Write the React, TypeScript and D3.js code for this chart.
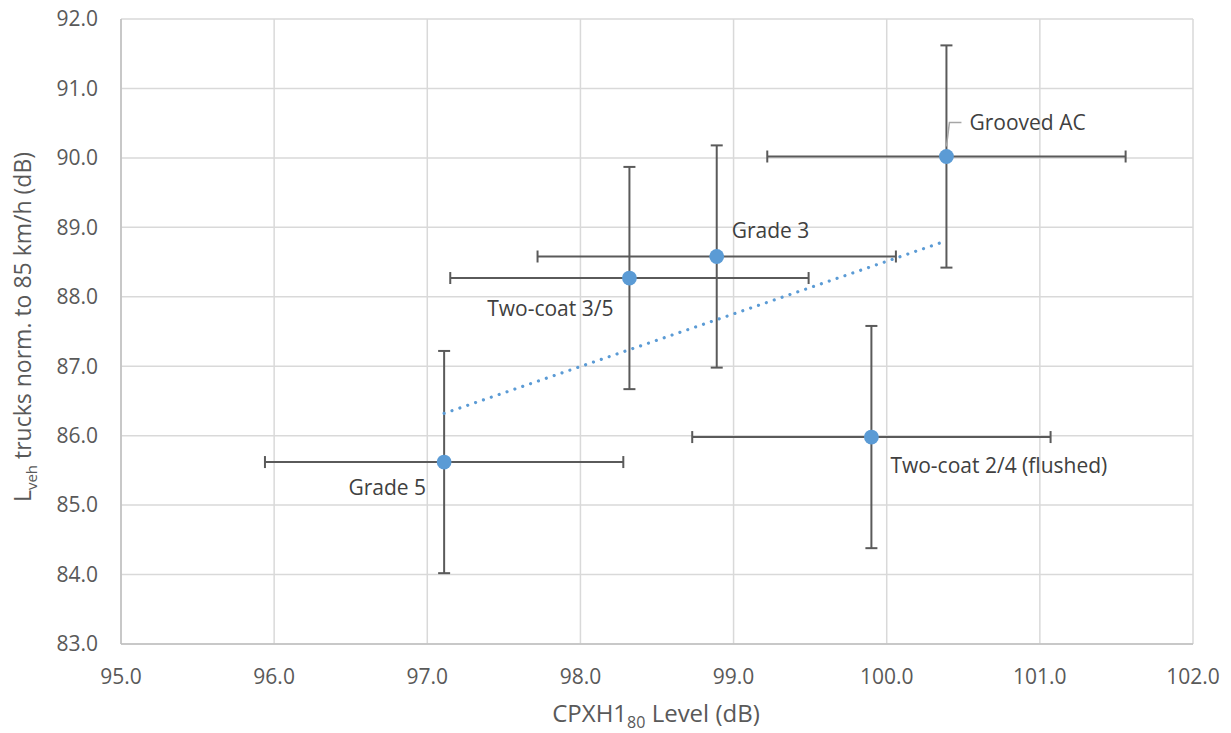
import React, { useEffect } from "react";
import * as d3 from "d3";

// ---- data ----
const labels = ["Grade 5", "Two-coat 3/5", "Grade 3", "Grooved AC", "Two-coat 2/4 (flushed)"];
const xValues = [97.11, 98.32, 98.89, 100.39, 99.9];
const yValues = [85.62, 88.27, 88.58, 90.02, 85.98];
const xErrors = [1.17, 1.17, 1.17, 1.17, 1.17];
const yErrors = [1.6, 1.6, 1.6, 1.6, 1.6];
const xTicks = [95, 96, 97, 98, 99, 100, 101, 102];
const yTicks = [83, 84, 85, 86, 87, 88, 89, 90, 91, 92];

// ---- layout ----
const W = 1231;
const H = 733;
const plot = { left: 121, right: 1193, top: 19, bottom: 644 };
const labelLayout = [
  { dx: -18, dy: 26, anchor: "end" },
  { dx: -16, dy: 31, anchor: "end" },
  { dx: 15, dy: -26, anchor: "start" },
  { dx: 23, dy: -34, anchor: "start" },
  { dx: 19, dy: 29, anchor: "start" },
];
const FONT = "'Open Sans', 'Noto Sans', sans-serif";
const TICK_SIZE = 21;
const LABEL_SIZE = 21;
const TEXT = "#595959";
const BLUE = "#5B9BD5";
const BAR = "#5a5a5a";

export default function App() {
  useEffect(() => {
    document.body.style.margin = "0";
  }, []);

  const x = d3.scaleLinear().domain([95, 102]).range([plot.left, plot.right]);
  const y = d3.scaleLinear().domain([83, 92]).range([plot.bottom, plot.top]);

  // linear regression trendline
  const mx = d3.mean(xValues) as number;
  const my = d3.mean(yValues) as number;
  let sxy = 0, sxx = 0;
  xValues.forEach((v, i) => {
    sxy += (v - mx) * (yValues[i] - my);
    sxx += (v - mx) * (v - mx);
  });
  const slope = sxy / sxx;
  const icpt = my - slope * mx;
  const x0 = d3.min(xValues) as number;
  const x1 = d3.max(xValues) as number;
  const trend = d3.line<number>().x((v) => x(v)).y((v) => y(icpt + slope * v))([x0, x1]) as string;

  const cap = 6;

  return (
    <svg width={W} height={H} style={{ display: "block", background: "#fff" }} fontFamily={FONT}>
      {/* gridlines */}
      {xTicks.map((t) => (
        <line key={"gx" + t} x1={x(t)} x2={x(t)} y1={plot.top} y2={plot.bottom} stroke="#D9D9D9" strokeWidth={1.5} />
      ))}
      {yTicks.map((t) => (
        <line key={"gy" + t} x1={plot.left} x2={plot.right} y1={y(t)} y2={y(t)} stroke="#D9D9D9" strokeWidth={1.5} />
      ))}
      {/* axes */}
      <line x1={plot.left} x2={plot.right} y1={plot.bottom} y2={plot.bottom} stroke="#BFBFBF" strokeWidth={1.5} />
      <line x1={plot.left} x2={plot.left} y1={plot.top} y2={plot.bottom} stroke="#BFBFBF" strokeWidth={1.5} />

      {/* tick labels */}
      {yTicks.map((t) => (
        <text key={"ty" + t} x={plot.left - 23} y={y(t)} dy="0.35em" textAnchor="end" fontSize={TICK_SIZE} fill={TEXT}>
          {t.toFixed(1)}
        </text>
      ))}
      {xTicks.map((t) => (
        <text key={"tx" + t} x={x(t)} y={677} dy="0.35em" textAnchor="middle" fontSize={TICK_SIZE} fill={TEXT}>
          {t.toFixed(1)}
        </text>
      ))}

      {/* axis titles */}
      <text x={656} y={714} dy="0.35em" textAnchor="middle" fontSize={24} fill={TEXT}>
        CPXH1<tspan fontSize={16} dy="6">80</tspan>
        <tspan dy="-6"> Level (dB)</tspan>
      </text>
      <text transform={`translate(23, 327) rotate(-90)`} textAnchor="middle" dy="0.35em" fontSize={23} fill={TEXT}>
        L<tspan fontSize={15} dy="6">veh</tspan>
        <tspan dy="-6"> trucks norm. to 85 km/h (dB)</tspan>
      </text>

      {/* error bars */}
      {xValues.map((xv, i) => {
        const px = x(xv), py = y(yValues[i]);
        const xl = x(xv - xErrors[i]), xr = x(xv + xErrors[i]);
        const yt = y(yValues[i] + yErrors[i]), yb = y(yValues[i] - yErrors[i]);
        return (
          <g key={"eb" + i} stroke={BAR} strokeWidth={2}>
            <line x1={xl} x2={xr} y1={py} y2={py} />
            <line x1={xl} x2={xl} y1={py - cap} y2={py + cap} />
            <line x1={xr} x2={xr} y1={py - cap} y2={py + cap} />
            <line x1={px} x2={px} y1={yt} y2={yb} />
            <line x1={px - cap} x2={px + cap} y1={yt} y2={yt} />
            <line x1={px - cap} x2={px + cap} y1={yb} y2={yb} />
          </g>
        );
      })}

      {/* trendline */}
      <path d={trend} fill="none" stroke={BLUE} strokeWidth={3.2} strokeLinecap="round" strokeDasharray="0.01 8.3" />

      {/* markers */}
      {xValues.map((xv, i) => (
        <circle key={"m" + i} cx={x(xv)} cy={y(yValues[i])} r={7.4} fill={BLUE} />
      ))}

      {/* leader line for Grooved AC */}
      {(() => {
        const i = 3;
        const px = x(xValues[i]), py = y(yValues[i]);
        const lx = px + labelLayout[i].dx, ly = py + labelLayout[i].dy;
        return (
          <polyline
            points={`${px},${py - 10} ${px + 3},${ly} ${lx - 8},${ly}`}
            fill="none"
            stroke="#A6A6A6"
            strokeWidth={1.5}
          />
        );
      })()}

      {/* data labels */}
      {labels.map((l, i) => (
        <text
          key={"l" + i}
          x={x(xValues[i]) + labelLayout[i].dx}
          y={y(yValues[i]) + labelLayout[i].dy}
          dy="0.35em"
          textAnchor={labelLayout[i].anchor as any}
          fontSize={LABEL_SIZE}
          fill={"#404040"}
        >
          {l}
        </text>
      ))}
    </svg>
  );
}
